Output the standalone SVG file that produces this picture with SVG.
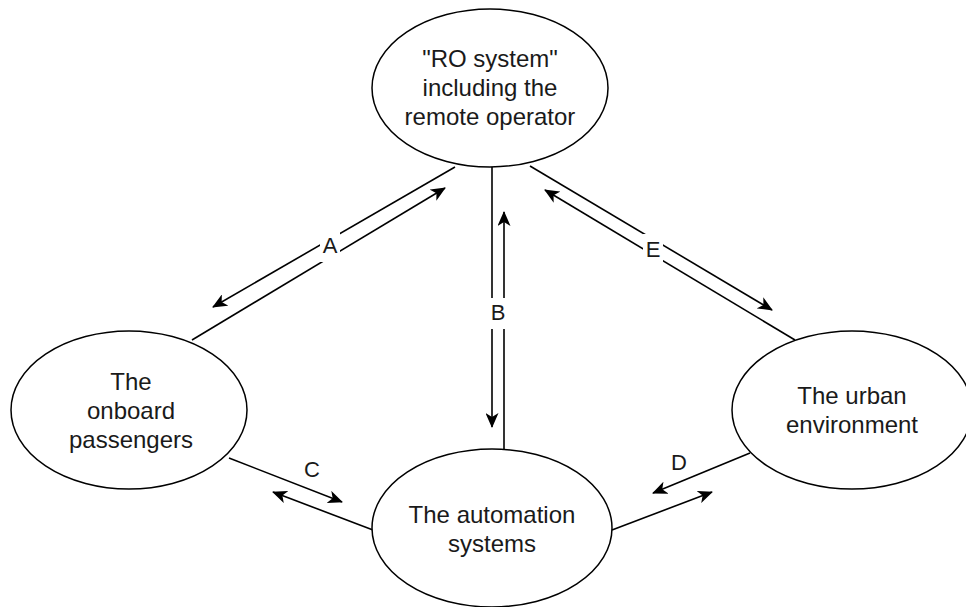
<svg xmlns="http://www.w3.org/2000/svg" width="966" height="607" viewBox="0 0 966 607">
<style>
.node ellipse{fill:#fff;stroke:#000;stroke-width:1.5}
.t{font-family:"Liberation Sans",Arial,sans-serif;font-size:24px;fill:#1a1a1a;text-anchor:middle}
.lbl{font-family:"Liberation Sans",Arial,sans-serif;font-size:22px;fill:#1a1a1a;text-anchor:middle;dominant-baseline:central}
.e{stroke:#000;stroke-width:1.6;fill:none}
.a{marker-end:url(#arr)}
.bg{fill:#fff}
</style>
<defs>
<marker id="arr" markerUnits="userSpaceOnUse" viewBox="0 0 15 13" refX="14" refY="6.5" markerWidth="15" markerHeight="13" orient="auto">
<path d="M0,0 L15,6.5 L0,13 L4,6.5 Z" fill="#000"/>
</marker>
</defs>
<rect width="966" height="607" fill="#fff"/>
<g id="connectors">
<line class="e a" x1="192" y1="340" x2="445" y2="188"/>
<line class="e a" x1="455" y1="167" x2="213" y2="307"/>
<line class="e a" x1="492" y1="167" x2="492" y2="427"/>
<line class="e a" x1="504" y1="449" x2="504" y2="212"/>
<line class="e a" x1="530" y1="166" x2="772" y2="310"/>
<line class="e a" x1="795" y1="340" x2="545" y2="190"/>
<line class="e a" x1="229" y1="458" x2="342" y2="502"/>
<line class="e a" x1="373" y1="530" x2="273" y2="492"/>
<line class="e a" x1="750" y1="453" x2="653" y2="493"/>
<line class="e a" x1="612" y1="530" x2="712" y2="492"/>
<g id="label-A"><rect class="bg" x="320" y="231" width="20" height="31"/><text class="lbl" x="330" y="245">A</text></g>
<g id="label-B"><rect class="bg" x="488" y="298" width="20" height="31"/><text class="lbl" x="498" y="312">B</text></g>
<g id="label-E"><rect class="bg" x="643" y="234" width="20" height="29"/><text class="lbl" x="653" y="249">E</text></g>
<g id="label-C"><text class="lbl" x="312" y="469">C</text></g>
<g id="label-D"><text class="lbl" x="679" y="462">D</text></g>
</g>
<g id="ro-system" class="node">
<ellipse cx="490" cy="88" rx="118" ry="79"/>
<text class="t" x="490" y="67">"RO system"</text>
<text class="t" x="490" y="96">including the</text>
<text class="t" x="490" y="125">remote operator</text>
</g>
<g id="passengers" class="node">
<ellipse cx="129" cy="410" rx="118" ry="79"/>
<text class="t" x="131" y="390">The</text>
<text class="t" x="131" y="419">onboard</text>
<text class="t" x="131" y="448">passengers</text>
</g>
<g id="automation" class="node">
<ellipse cx="492" cy="528" rx="120" ry="79"/>
<text class="t" x="492" y="523">The automation</text>
<text class="t" x="492" y="552">systems</text>
</g>
<g id="urban" class="node">
<ellipse cx="852" cy="410" rx="120" ry="79"/>
<text class="t" x="852" y="404">The urban</text>
<text class="t" x="852" y="433">environment</text>
</g>
</svg>
